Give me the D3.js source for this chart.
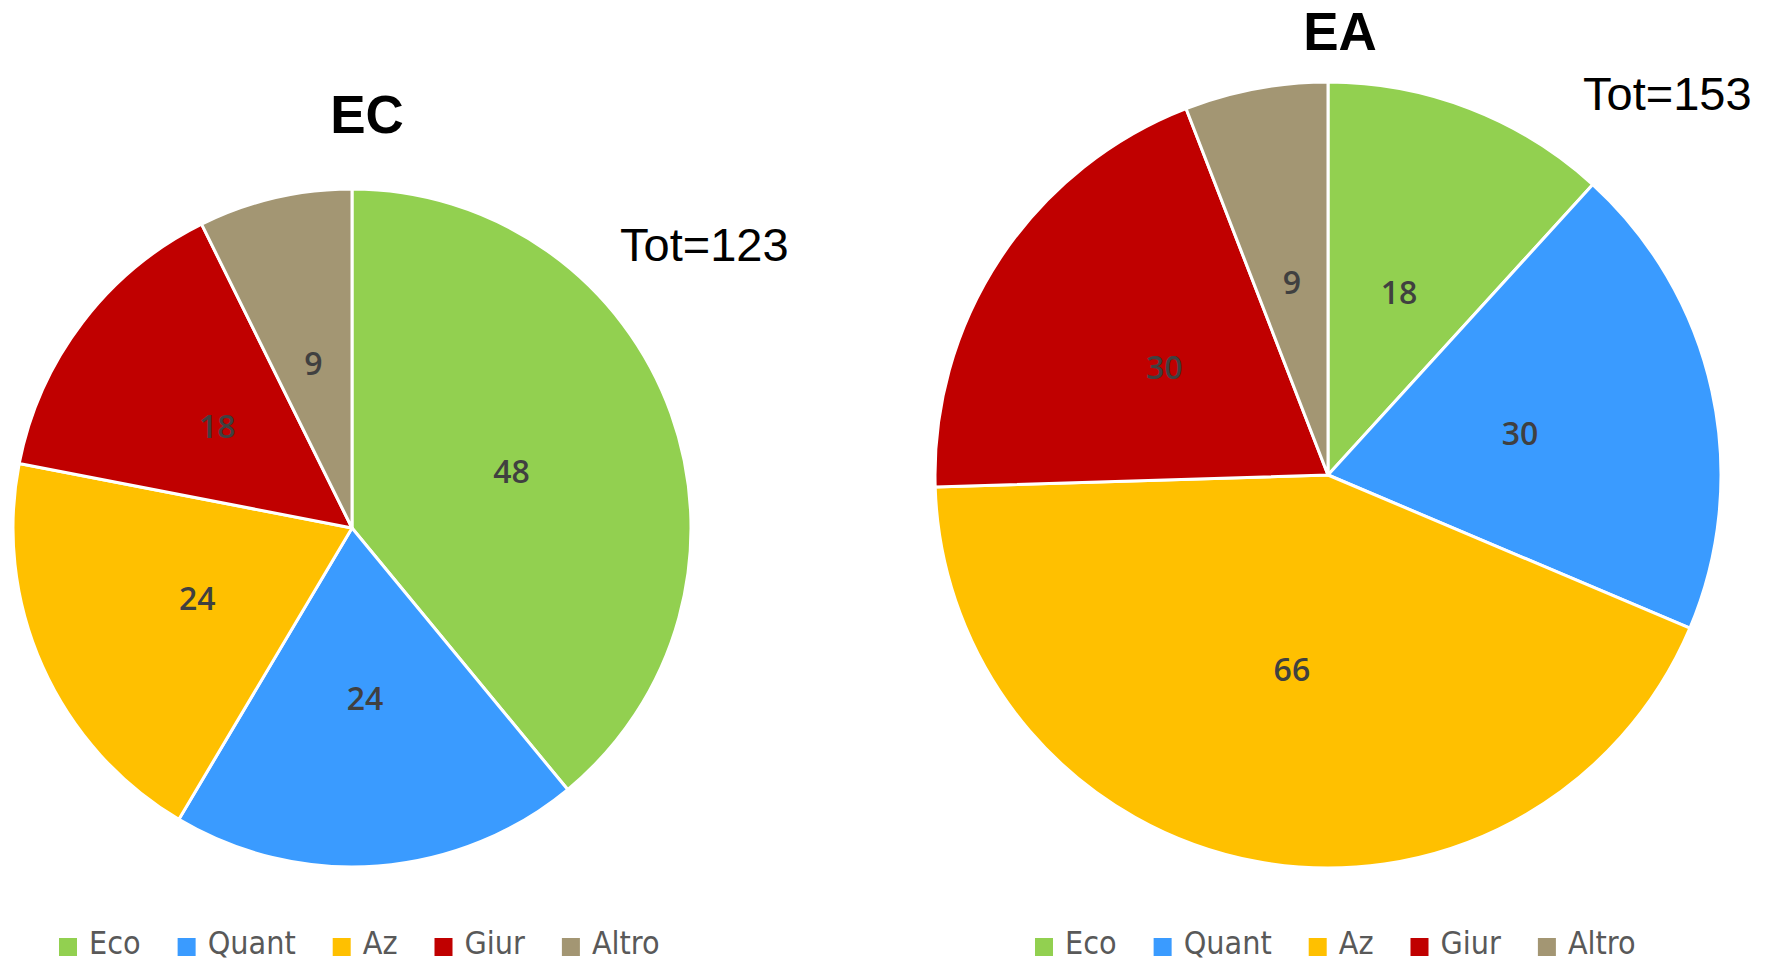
<!DOCTYPE html>
<html>
<head>
  <meta charset="utf-8">
  <title>EC / EA</title>
  <script src="https://cdn.jsdelivr.net/npm/d3@7"></script>
  <style>
    body { margin: 0; background: #ffffff; }
    .title { font-family: "Liberation Sans", Arial, sans-serif; font-weight: bold; font-size: 53px; fill: #000; text-anchor: middle; }
    .tot { font-family: "Liberation Sans", Arial, sans-serif; font-size: 47px; fill: #000; }
    .lbl { font-family: "Open Sans", sans-serif; font-weight: 600; font-size: 32px; fill: #404040; text-anchor: middle; dominant-baseline: central; }
    .leg { font-family: "DejaVu Sans Condensed", "DejaVu Sans", sans-serif; font-stretch: condensed; font-size: 32px; fill: #595959; }
  </style>
</head>
<body>
<script>
  // Categories and colours
  var categories = ["Eco", "Quant", "Az", "Giur", "Altro"];
  var colors = ["#92d050", "#3a9bff", "#ffc000", "#c00000", "#a39673"];

  // Values per chart
  var ecValues = [48, 24, 24, 18, 9];
  var eaValues = [18, 30, 66, 30, 9];
  var titles = ["EC", "EA"];
  var totals = ["Tot=123", "Tot=153"];

  var width = 1767, height = 963;
  var svg = d3.select("body").append("svg")
      .attr("width", width)
      .attr("height", height);

  var color = d3.scaleOrdinal().domain(categories).range(colors);

  // layout for each pie
  var charts = [
    { values: ecValues, cx: 352, cy: 528, r: 339, titleX: 367, titleY: 133, totX: 620, totY: 261, legX: 59 },
    { values: eaValues, cx: 1328, cy: 475, r: 393, titleX: 1340, titleY: 50, totX: 1583, totY: 110, legX: 1035 }
  ];

  var pie = d3.pie().sort(null).value(function(d) { return d.value; });

  charts.forEach(function(c, ci) {
    var data = categories.map(function(k, i) { return { key: k, value: c.values[i] }; });
    var arc = d3.arc().innerRadius(0).outerRadius(c.r);

    var g = svg.append("g").attr("transform", "translate(" + c.cx + "," + c.cy + ")");

    g.selectAll("path")
      .data(pie(data))
      .enter()
      .append("path")
      .attr("d", arc)
      .attr("fill", function(d) { return color(d.data.key); })
      .attr("stroke", "#fff")
      .attr("stroke-width", 3)
      .attr("stroke-linejoin", "round");

    g.selectAll("text")
      .data(pie(data))
      .enter()
      .append("text")
      .attr("class", "lbl")
      .attr("transform", function(d) { return "translate(" + arc.centroid(d) + ")"; })
      .text(function(d) { return d.data.value; });

    svg.append("text")
      .attr("class", "title")
      .attr("x", c.titleX)
      .attr("y", c.titleY)
      .text(titles[ci]);

    svg.append("text")
      .attr("class", "tot")
      .attr("x", c.totX)
      .attr("y", c.totY)
      .text(totals[ci]);

    // Legend
    var x = c.legX;
    categories.forEach(function(k) {
      svg.append("rect")
        .attr("x", x)
        .attr("y", 938)
        .attr("width", 18)
        .attr("height", 18)
        .attr("fill", color(k));
      var t = svg.append("text")
        .attr("class", "leg")
        .attr("x", x + 30)
        .attr("y", 954)
        .text(k);
      x += 30 + t.node().getComputedTextLength() + 37;
    });
  });
</script>
</body>
</html>
